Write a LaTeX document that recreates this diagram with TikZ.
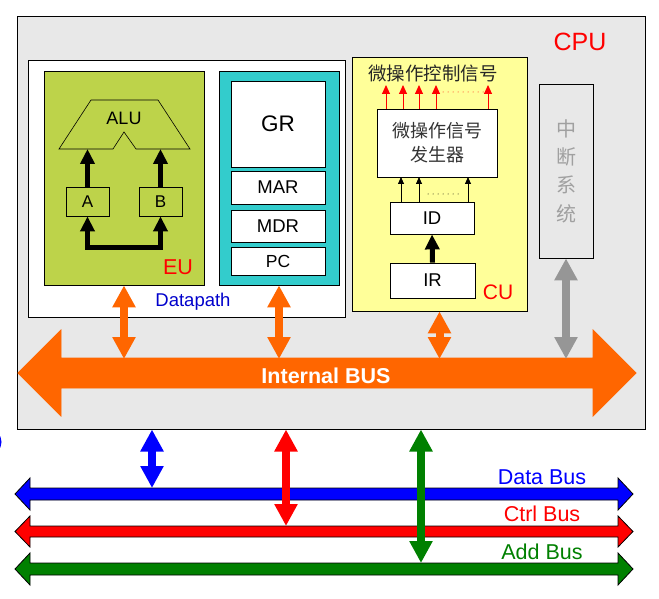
\documentclass[tikz,border=0pt]{standalone}
\usepackage{fontspec}
\setmainfont{Liberation Sans}
\newfontfamily\cjk{Noto Sans CJK SC}
\usetikzlibrary{arrows.meta}
\definecolor{bggray}{RGB}{232,232,232}
\definecolor{eugreen}{RGB}{189,211,74}
\definecolor{regcyan}{RGB}{51,204,204}
\definecolor{cuyellow}{RGB}{255,255,153}
\definecolor{busorange}{RGB}{255,102,0}
\definecolor{arrgray}{RGB}{150,150,150}
\definecolor{txtgray}{RGB}{160,160,160}
\definecolor{busgreen}{RGB}{0,128,0}
\definecolor{dpblue}{RGB}{0,0,204}
\newcommand{\hdarrow}[8]{%
  \filldraw[fill=#1,draw=#2,line width=0.8pt,line join=miter]
   (#3,#5) -- (#3+#8,#5-#7) -- (#3+#8,#5-#6) -- (#4-#8,#5-#6) -- (#4-#8,#5-#7)
   -- (#4,#5) -- (#4-#8,#5+#7) -- (#4-#8,#5+#6) -- (#3+#8,#5+#6) -- (#3+#8,#5+#7) -- cycle;}
\tikzset{
  box/.style={draw=black,line width=0.8pt,inner sep=0pt},
  lbl/.style={inner sep=0pt},
  fbig/.style={font=\fontsize{#1}{#1}\selectfont},
  bigdarrow/.style={line width=8pt,{Triangle[width=22pt,length=22pt]}-{Triangle[width=22pt,length=22pt]}},
  thickarr/.style={line width=5pt,-{Triangle[width=14pt,length=15pt]}},
  thickdarr/.style={line width=5pt,line join=miter,{Triangle[width=14pt,length=15pt]}-{Triangle[width=14pt,length=15pt]}},
  smallarr/.style={line width=0.8pt,-{Triangle[width=6pt,length=7pt]}},
  redarr/.style={red,line width=1pt,-{Triangle[width=8pt,length=9pt]}},
  sparsedots/.style={line width=1pt,line cap=round,dash pattern=on 0pt off 5pt},
}
\begin{document}
\begin{tikzpicture}[x=1pt,y=-1pt]
\useasboundingbox (0,0) rectangle (659,599);
% CPU box
\node[box,fill=bggray,line width=1pt,minimum width=628pt,minimum height=412pt] (cpu) at (331,223) {};
\node[lbl,fbig=25,red] (cpulbl) at (580,42) {CPU};
% Datapath
\node[box,fill=white,minimum width=317pt,minimum height=257pt] (dp) at (186.5,188.5) {};
\node[lbl,fbig=18.5,dpblue] (dplbl) at (193,302) {Datapath};
% EU
\node[box,fill=eugreen,minimum width=160pt,minimum height=214pt] (eu) at (124,178) {};
\node[lbl,fbig=21.5,red] (eulbl) at (178,267) {EU};
\draw[line width=0.6pt,line join=miter] (91,100) -- (158,100) -- (190,149) -- (136,149) -- (124,132) -- (113,149) -- (59,149) -- cycle;
\node[lbl,fbig=18] (alu) at (124,118) {ALU};
\coordinate (alubot) at (124,149);
\node[box,minimum width=43pt,minimum height=29pt,fbig=17] (A) at (87.5,201.5) {A};
\node[box,minimum width=43pt,minimum height=29pt,fbig=17] (B) at (160.5,201.5) {B};
\draw[thickarr] (A.north) -- (A.north |- alubot);
\draw[thickarr] (B.north) -- (B.north |- alubot);
\draw[thickdarr] (A.south) -- ++(0,31) -| (B.south);
% registers
\node[box,fill=regcyan,minimum width=120pt,minimum height=214pt] (regs) at (279,178) {};
\node[box,fill=white,minimum width=94pt,minimum height=86pt,fbig=22.5] (GR) at (278,124) {GR};
\node[box,fill=white,minimum width=94pt,minimum height=33pt,fbig=18.5] (MAR) at (278,187.5) {MAR};
\node[box,fill=white,minimum width=94pt,minimum height=32pt,fbig=18.5] (MDR) at (278,226) {MDR};
\node[box,fill=white,minimum width=94pt,minimum height=28pt,fbig=17.5] (PC) at (278,261) {PC};
% CU
\node[box,fill=cuyellow,minimum width=175pt,minimum height=254pt] (cu) at (439.5,184) {};
\node[lbl,fbig=18.5,text=black!85] (ctl) at (433,73) {\cjk 微操作控制信号};
\node[box,fill=white,minimum width=120pt,minimum height=68pt,align=center,font=\fontsize{18}{24}\selectfont\cjk,text=black!80] (gen) at (437,143) {微操作信号\\发生器};
\node[box,fill=white,minimum width=84pt,minimum height=32pt,fbig=18.5] (ID) at (432,218) {ID};
\node[box,fill=white,minimum width=85pt,minimum height=35pt,fbig=18.5] (IR) at (432.5,280.5) {IR};
\node[lbl,fbig=21,red] (culbl) at (498,292) {CU};
\draw[thickarr] (IR.north) -- (ID.south);
\foreach \x in {401,419,468} \draw[smallarr] (\x,202) -- (\x,177);
\draw[sparsedots] (428,194) -- (462,194);
\foreach \x in {386,403,419,436,488} \draw[redarr] (\x,109) -- (\x,85);
\draw[sparsedots,red] (443,92) -- (483,92);
% interrupt system
\node[box,fill=bggray,minimum width=54pt,minimum height=174pt,align=center,font=\fontsize{20}{28.3}\selectfont\cjk,text=txtgray] (int) at (566,171) {中\\断\\系\\统};
% internal bus
\hdarrow{busorange}{busorange}{18}{636}{373}{15}{43}{43}
\node[lbl,white,font={\fontsize{21.5}{21.5}\selectfont\bfseries}] (ibuslbl) at (326,376) {Internal BUS};
\coordinate (ibus) at (0,359);
\draw[busorange,bigdarrow] (eu.south) -- (eu.south |- ibus);
\draw[busorange,bigdarrow] (regs.south) -- (regs.south |- ibus);
\draw[busorange,bigdarrow] (cu.south) -- (cu.south |- ibus);
\draw[arrgray,bigdarrow] (int.south) -- (int.south |- ibus);
% system buses
\hdarrow{blue}{black}{15}{633}{494}{6}{16}{15}
\hdarrow{red}{black}{15}{633}{531.5}{5.5}{15.5}{15}
\hdarrow{busgreen}{black}{15}{633}{569}{6}{16}{15}
\node[lbl,fbig=21.5,blue] (dbl) at (542,477) {Data Bus};
\node[lbl,fbig=21.5,red] (cbl) at (542,514) {Ctrl Bus};
\node[lbl,fbig=21.5,busgreen] (abl) at (542,552) {Add Bus};
\coordinate (dbtop) at (152,488);
\coordinate (cbtop) at (286,526);
\coordinate (abtop) at (421,563);
\draw[blue,bigdarrow] (cpu.south -| dbtop) -- (dbtop);
\draw[red,bigdarrow] (cpu.south -| cbtop) -- (cbtop);
\draw[busgreen,bigdarrow] (cpu.south -| abtop) -- (abtop);
% cut-off blue mark at left edge
\draw[blue,line width=1.5pt] (-3,433) .. controls (2,438) and (2,446) .. (-3,451);
\end{tikzpicture}
\end{document}
